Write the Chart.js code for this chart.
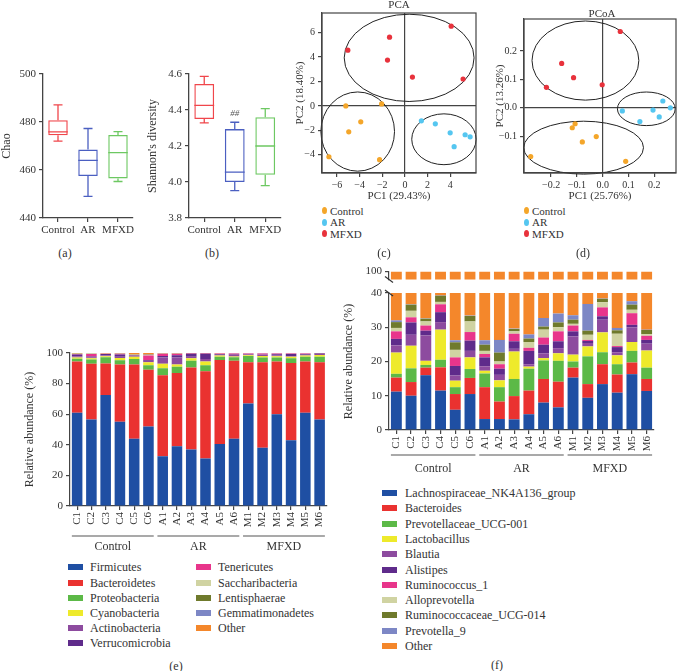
<!DOCTYPE html>
<html>
<head>
<meta charset="utf-8">
<script src="https://cdn.jsdelivr.net/npm/chart.js@4.4.1/dist/chart.umd.min.js"></script>
<style>
  body { margin: 0; background: #fff; }
  #fig { position: relative; width: 680px; height: 671px; overflow: hidden; font-family: 'Liberation Serif', 'DejaVu Serif', serif; color: #333; }
  #fig canvas { position: absolute; }
  .t { position: absolute; white-space: nowrap; line-height: 1; }
  .sw { position: absolute; width: 15px; height: 6px; }
  .dot { position: absolute; width: 5px; height: 7px; border-radius: 50%; }
</style>
</head>
<body>
<div id="fig">
  <canvas id="chao" width="140" height="185" style="left:0;top:60px"></canvas>
  <canvas id="shannon" width="140" height="185" style="left:146px;top:60px"></canvas>
  <canvas id="pca" width="190" height="203" style="left:290px;top:0"></canvas>
  <canvas id="pcoa" width="190" height="203" style="left:490px;top:0"></canvas>
  <canvas id="phylum" width="335" height="220" style="left:0;top:340px"></canvas>
  <canvas id="genus" width="345" height="200" style="left:335px;top:280px"></canvas>
  <canvas id="genusTop" width="345" height="27" style="left:335px;top:262px"></canvas>
</div>
<script>
// groups and samples
const groups = ['Control', 'AR', 'MFXD'];
const boxColors = ['#f0464b', '#4b5fc1', '#6dc862'];
const pointColors = ['#f4a62a', '#55c6f0', '#e8323c'];
const samples = ['C1','C2','C3','C4','C5','C6','A1','A2','A3','A4','A5','A6','M1','M2','M3','M4','M5','M6'];

// (a) Chao index: min, q1, median, q3, max
const chaoMin = [472, 449, 455.2];
const chaoQ1 = [474.5, 457.5, 456.5];
const chaoMed = [475.9, 464, 467.2];
const chaoQ3 = [480.7, 468.5, 474.6];
const chaoMax = [487.1, 477.3, 476];

// (b) Shannon diversity
const shanMin = [4.328, 3.952, 3.98];
const shanQ1 = [4.35, 4.0, 4.04];
const shanMed = [4.426, 4.055, 4.2];
const shanQ3 = [4.545, 4.294, 4.36];
const shanMax = [4.587, 4.332, 4.408];

// (c) PCA scores [PC1, PC2]
const pcaControl = [[-5.22, 0], [-2.06, 0.16], [-3.9, -1.3], [-4.96, -2.12], [-6.71, -4.16], [-2.24, -4.4]];
const pcaAR = [[1.45, -1.22], [2.68, -1.47], [3.99, -2.2], [4.34, -3.34], [5.31, -2.36], [5.75, -2.53]];
const pcaMFXD = [[-1.36, 5.62], [-5.04, 4.56], [-1.54, 3.75], [0.66, 2.36], [4.08, 6.52], [5.13, 2.2]];
// ellipses [cx, cy, rx, ry]
const pcaEllipses = [[-4.17, -2.1, 3.25, 3.24], [3.44, -2.73, 2.84, 2.08], [0.37, 3.93, 5.73, 3.57]];

// (d) PCoA scores
const pcoaControl = [[-0.118, -0.07], [-0.107, -0.056], [-0.079, -0.12], [-0.025, -0.101], [-0.279, -0.171], [0.089, -0.188]];
const pcoaAR = [[0.076, -0.011], [0.144, -0.048], [0.195, -0.008], [0.219, -0.032], [0.233, 0.024], [0.262, 0]];
const pcoaMFXD = [[0.068, 0.268], [-0.159, 0.156], [-0.113, 0.106], [-0.218, 0.072], [-0.002, 0.081]];
const pcoaEllipses = [[-0.074, -0.14, 0.232, 0.093], [0.169, -0.0035, 0.112, 0.059], [-0.067, 0.166, 0.207, 0.139]];

// (e) phylum relative abundance (%)
const phylumNames = ['Firmicutes','Bacteroidetes','Proteobacteria','Cyanobacteria','Actinobacteria','Verrucomicrobia','Tenericutes','Saccharibacteria','Lentisphaerae','Gemmatimonadetes','Other'];
const firmicutes      = [61, 56.5, 72.5, 55, 44, 52, 32.5, 39, 37, 31, 40.5, 44, 67, 38, 60, 43, 61, 56.5];
const bacteroidetes   = [33.5, 36.5, 20.7, 37.5, 48.5, 37, 53, 48, 53.5, 57, 55, 51, 27, 56, 34.5, 50.5, 33.5, 37.5];
const proteobacteria  = [1.8, 2.8, 4, 2.8, 3.5, 3, 4.5, 4, 4.5, 4, 2, 2.3, 4, 3, 2.5, 3, 3, 3.5];
const cyanobacteria   = [0.7, 0.8, 0.7, 1.5, 1.5, 2, 3, 1.5, 1.5, 2.5, 0.8, 0.4, 0.5, 1, 0.8, 1, 0.8, 1.2];
const actinobacteria  = [0.8, 0.6, 0.5, 0.8, 0.6, 0.8, 4, 4.5, 1, 1.5, 0.5, 1, 0.4, 0.8, 0.8, 0.4, 0.6, 0.6];
const verrucomicrobia = [1.2, 0.5, 1, 1.5, 0.3, 0.5, 1, 1.5, 2, 3.5, 0.6, 0.3, 0.3, 0.3, 0.6, 1.5, 0.4, 0.3];
const tenericutes     = [0.3, 1.6, 0.1, 0.4, 0.2, 3, 1.5, 1, 0.3, 0.3, 0.2, 0.7, 0.5, 0.6, 0.5, 0.3, 0.4, 0.2];
const saccharibacteria= [0.2, 0.3, 0.1, 0.2, 0.3, 0.4, 0.2, 0.2, 0.1, 0.1, 0.2, 0.1, 0.1, 0.1, 0.1, 0.1, 0.1, 0.1];
const lentisphaerae   = [0.1, 0.1, 0.1, 0.1, 0.1, 0.2, 0.1, 0.1, 0.05, 0.05, 0.1, 0.1, 0.1, 0.1, 0.1, 0.1, 0.1, 0.05];
const gemmatimonadetes= [0.1, 0.1, 0, 0, 0.1, 0.1, 0.1, 0.1, 0.05, 0.05, 0, 0.05, 0.05, 0.05, 0.05, 0.05, 0.05, 0.03];
const phylumOther     = [0.3, 0.2, 0.3, 0.2, 0.9, 1, 0.1, 0.1, 0, 0, 0.1, 0.05, 0.05, 0.05, 0.05, 0.05, 0.05, 0.02];
const phylumSeries = [firmicutes, bacteroidetes, proteobacteria, cyanobacteria, actinobacteria, verrucomicrobia, tenericutes, saccharibacteria, lentisphaerae, gemmatimonadetes, phylumOther];

// (f) genus relative abundance (%)
const genusNames = ['Lachnospiraceae_NK4A136_group','Bacteroides','Prevotellaceae_UCG-001','Lactobacillus','Blautia','Alistipes','Ruminococcus_1','Alloprevotella','Ruminococcaceae_UCG-014','Prevotella_9','Other'];
const lachno      = [11.2, 10, 16, 11.5, 5.9, 10.5, 3.2, 3.2, 3.1, 4.6, 8, 6.6, 15.3, 9.4, 13.4, 10.9, 16.3, 11.4];
const bacteroides = [4.1, 4, 2.2, 6.8, 4.6, 4.7, 9.3, 5.1, 6.8, 6.9, 6.9, 7.5, 2.9, 4, 5.8, 5.3, 3.4, 3.5];
const prevUCG001  = [1.1, 4, 0.8, 2.2, 2, 2.6, 4, 4.2, 5, 6.4, 5.4, 6.1, 1.8, 8.1, 3.5, 3, 3.4, 3.3];
const lactobac    = [6.2, 6.6, 1.2, 8.8, 1.9, 3.4, 0.8, 2, 8, 0.6, 0.7, 2.2, 2, 2.9, 5.8, 2.6, 2.6, 5];
const blautia     = [2.1, 3.2, 7.4, 2.2, 1.5, 1.9, 1.3, 1.6, 0.8, 0.7, 1.4, 1.5, 5.3, 1, 3.7, 0.9, 4.3, 2];
const alistipes   = [1.9, 3.6, 1.4, 2.9, 2.8, 3, 2.6, 1.8, 2.2, 3.9, 2.5, 2, 1.5, 0.6, 1, 1.5, 0.7, 1.1];
const rumino1     = [2.2, 1.5, 1.5, 2.3, 2.5, 2.5, 1, 1.3, 2.2, 0.9, 2.1, 2.9, 1.7, 0.3, 2.6, 0.3, 3.4, 1.2];
const allopre     = [1, 1.9, 1.2, 0.7, 2.2, 3.1, 0.9, 0.8, 0.7, 1.7, 2.3, 1.2, 0.5, 1.5, 1.5, 3.6, 1, 0.5];
const rumUCG014   = [1.7, 1.8, 0.8, 1.8, 2.2, 1.6, 1.8, 2.6, 0.7, 1, 0.9, 1.4, 1.2, 1.2, 1, 1, 1.5, 1.2];
const prevotella9 = [0.5, 0.1, 0.1, 0.1, 0.6, 0.1, 1.3, 3.7, 0.1, 1.2, 2.5, 2.6, 1.3, 7.8, 0.1, 0.7, 1, 0.1];
const genusOther  = [68, 63.3, 67.4, 60.7, 73.8, 66.6, 73.8, 73.7, 70.4, 72.1, 67.3, 66, 66.5, 63.2, 61.6, 70.2, 62.4, 70.7];
const genusSeries = [lachno, bacteroides, prevUCG001, lactobac, blautia, alistipes, rumino1, allopre, rumUCG014, prevotella9, genusOther];

const stackColors = ['#1f4fa3','#ea3230','#5cb947','#eeea2b','#8d4b9f','#5f2b8b','#e8358b','#d0d3a2','#6f7a2c','#7d87c5','#f4872b'];

const AX = '#444';
Chart.defaults.font.family = "'Liberation Serif', 'DejaVu Serif', serif";
Chart.defaults.color = '#333';
const base = {
  responsive: false, animation: false, devicePixelRatio: 1,
  plugins: { legend: { display: false }, tooltip: { enabled: false } }
};
const axisGrid = { drawOnChartArea: false, tickLength: 4, color: AX, lineWidth: 1.2 };
const minus = v => (v < -1e-9 ? '\u2212' : '');

function boxChart(id, lo, q1, med, q3, hi, yMin, yMax, yStep, digits, yTitle, padRight, note) {
  const whiskers = {
    id: 'whiskers',
    afterDatasetsDraw(chart) {
      const ctx = chart.ctx, y = chart.scales.y;
      chart.getDatasetMeta(0).data.forEach((bar, i) => {
        const x = bar.x, w = bar.width / 2;
        ctx.save();
        ctx.strokeStyle = boxColors[i];
        ctx.lineWidth = 1.3;
        ctx.beginPath();
        ctx.moveTo(x - w, y.getPixelForValue(med[i])); ctx.lineTo(x + w, y.getPixelForValue(med[i]));
        ctx.moveTo(x, y.getPixelForValue(q3[i])); ctx.lineTo(x, y.getPixelForValue(hi[i]));
        ctx.moveTo(x - 4.5, y.getPixelForValue(hi[i])); ctx.lineTo(x + 4.5, y.getPixelForValue(hi[i]));
        ctx.moveTo(x, y.getPixelForValue(q1[i])); ctx.lineTo(x, y.getPixelForValue(lo[i]));
        ctx.moveTo(x - 4.5, y.getPixelForValue(lo[i])); ctx.lineTo(x + 4.5, y.getPixelForValue(lo[i]));
        ctx.stroke();
        ctx.restore();
      });
      if (note) {
        const bar = chart.getDatasetMeta(0).data[note.index];
        ctx.save();
        ctx.fillStyle = '#555';
        ctx.font = 'italic 9px ' + Chart.defaults.font.family;
        ctx.textAlign = 'center';
        ctx.textBaseline = 'middle';
        ctx.fillText(note.text, bar.x, y.getPixelForValue(note.value));
        ctx.restore();
      }
    }
  };
  new Chart(document.getElementById(id), {
    type: 'bar',
    data: { labels: groups, datasets: [{
      data: q1.map((v, i) => [v, q3[i]]),
      backgroundColor: 'rgba(255,255,255,0)', borderColor: boxColors, borderWidth: 1.3,
      borderSkipped: false, barPercentage: 0.65, categoryPercentage: 1
    }] },
    options: {
      ...base,
      layout: { padding: { top: 14, right: padRight, left: 0, bottom: 0 } },
      scales: {
        x: { grid: { ...axisGrid, offset: false }, border: { color: AX, width: 1.3 },
             ticks: { font: { size: 11 }, padding: 2, autoSkip: false, minRotation: 0, maxRotation: 0 },
             afterFit: s => { s.height = 27; } },
        y: { min: yMin, max: yMax, grid: axisGrid, border: { color: AX, width: 1.3 },
             ticks: { stepSize: yStep, font: { size: 11 }, padding: 3, callback: v => v.toFixed(digits) },
             title: { display: true, text: yTitle, font: { size: 12 }, padding: 0 },
             afterFit: s => { s.width = 43; } }
      }
    },
    plugins: [whiskers]
  });
}

function scatterChart(id, sets, ellipses, xr, yr, xStep, yStep, digits, xTitle, yTitle, padTop, padRight, yWidth) {
  const frame = {
    id: 'frame',
    beforeDatasetsDraw(chart) {
      const ctx = chart.ctx, a = chart.chartArea, xs = chart.scales.x, ys = chart.scales.y;
      ctx.save();
      ctx.strokeStyle = '#222';
      ctx.lineWidth = 1;
      ellipses.forEach(e => {
        const cx = xs.getPixelForValue(e[0]), cy = ys.getPixelForValue(e[1]);
        const rx = Math.abs(xs.getPixelForValue(e[0] + e[2]) - cx);
        const ry = Math.abs(ys.getPixelForValue(e[1] + e[3]) - cy);
        ctx.beginPath();
        ctx.ellipse(cx, cy, rx, ry, 0, 0, Math.PI * 2);
        ctx.stroke();
      });
      ctx.strokeStyle = AX;
      ctx.lineWidth = 1.2;
      ctx.strokeRect(a.left, a.top, a.right - a.left, a.bottom - a.top);
      ctx.restore();
    }
  };
  const inRange = (lo, hi) => s => { s.ticks = s.ticks.filter(t => t.value >= lo - 1e-9 && t.value <= hi + 1e-9); };
  const zeroGrid = { tickLength: 4, tickColor: AX, lineWidth: 1.2,
    color: c => (c.tick && Math.abs(c.tick.value) < 1e-9 ? AX : 'rgba(0,0,0,0)') };
  new Chart(document.getElementById(id), {
    type: 'scatter',
    data: { datasets: sets.map((pts, g) => ({
      data: pts.map(p => ({ x: p[0], y: p[1] })),
      backgroundColor: pointColors[g], borderWidth: 0, pointRadius: 2.6
    })) },
    options: {
      ...base,
      layout: { padding: { top: padTop, right: padRight, left: 0, bottom: 0 } },
      scales: {
        x: { min: xr[0], max: xr[1], grid: zeroGrid, border: { color: AX, width: 1.2 },
             ticks: { stepSize: xStep, includeBounds: false, font: { size: 10 }, padding: 2,
                      callback: v => minus(v) + Math.abs(v).toFixed(digits) },
             afterBuildTicks: inRange(xr[2], xr[3]),
             title: { display: true, text: xTitle, font: { size: 11 }, padding: { top: 1, bottom: 0 } },
             afterFit: s => { s.height = 30; } },
        y: { min: yr[0], max: yr[1], grid: zeroGrid, border: { color: AX, width: 1.2 },
             ticks: { stepSize: yStep, includeBounds: false, font: { size: 10 }, padding: 3,
                      callback: v => minus(v) + Math.abs(v).toFixed(digits) },
             afterBuildTicks: inRange(yr[2], yr[3]),
             title: { display: true, text: yTitle, font: { size: 11 }, padding: 4 },
             afterFit: s => { s.width = yWidth; } }
      }
    },
    plugins: [frame]
  });
}

function groupMarks(lineY, labelY) {
  return {
    id: 'groupMarks',
    afterDraw(chart) {
      const ctx = chart.ctx, xs = chart.scales.x;
      const bw = chart.getDatasetMeta(0).data[0].width / 2;
      ctx.save();
      ctx.strokeStyle = '#555';
      ctx.lineWidth = 1.2;
      ctx.fillStyle = '#333';
      ctx.font = '12px ' + Chart.defaults.font.family;
      ctx.textAlign = 'center';
      ctx.textBaseline = 'middle';
      groups.forEach((g, k) => {
        const x1 = xs.getPixelForValue(k * 6) - bw, x2 = xs.getPixelForValue(k * 6 + 5) + bw;
        ctx.beginPath(); ctx.moveTo(x1, lineY); ctx.lineTo(x2, lineY); ctx.stroke();
        ctx.fillText(g, (x1 + x2) / 2, labelY);
      });
      ctx.restore();
    }
  };
}

function breakMark(where) {
  return {
    id: 'breakMark',
    afterDraw(chart) {
      const ctx = chart.ctx, a = chart.chartArea;
      const y = where === 'top' ? a.top : a.bottom;
      ctx.save();
      ctx.strokeStyle = '#333';
      ctx.lineWidth = 1.2;
      ctx.beginPath();
      ctx.moveTo(a.left - 4, y - 3); ctx.lineTo(a.left + 4, y + 3);
      ctx.stroke();
      ctx.restore();
    }
  };
}

function stackChart(id, series, yMin, yMax, yStep, pad, xHeight, opts) {
  const xTicks = opts.showX
    ? { display: true, autoSkip: false, minRotation: 90, maxRotation: 90, font: { size: 11 }, padding: 2 }
    : { display: false };
  return new Chart(document.getElementById(id), {
    type: 'bar',
    data: { labels: samples, datasets: series.map((d, k) => ({
      data: d, backgroundColor: stackColors[k], borderWidth: 0,
      barPercentage: opts.barPct, categoryPercentage: 1
    })) },
    options: {
      ...base,
      layout: { padding: pad },
      scales: {
        x: { stacked: true, display: opts.showX, grid: { ...axisGrid, offset: false },
             border: { color: AX, width: 1.2 }, ticks: xTicks,
             afterFit: s => { s.height = xHeight; } },
        y: { stacked: true, min: yMin, max: yMax, grid: axisGrid, border: { color: AX, width: 1.2 },
             ticks: { stepSize: yStep, font: { size: 11 }, padding: 3 },
             afterBuildTicks: opts.onlyTick ? (s => { s.ticks = [{ value: opts.onlyTick }]; }) : undefined,
             title: { display: !!opts.yTitle, text: opts.yTitle || '', font: { size: 12 }, padding: 4 },
             afterFit: s => { s.width = 51; } }
      }
    },
    plugins: opts.plugins || []
  });
}

boxChart('chao', chaoMin, chaoQ1, chaoMed, chaoQ3, chaoMax, 440, 500, 20, 0, 'Chao', 7, null);
boxChart('shannon', shanMin, shanQ1, shanMed, shanQ3, shanMax, 3.8, 4.6, 0.2, 1, "Shannon's diversity", 5.5,
  { index: 1, value: 4.38, text: '##' });

scatterChart('pca', [pcaControl, pcaAR, pcaMFXD], pcaEllipses,
  [-7.32, 6.27, -6, 4], [-5.49, 7.6, -4, 6], 2, 2, 0, 'PC1 (29.43%)', 'PC2 (18.40%)', 13, 3, 32);
scatterChart('pcoa', [pcoaControl, pcoaAR, pcoaMFXD], pcoaEllipses,
  [-0.305, 0.284, -0.2, 0.2], [-0.229, 0.312, -0.1, 0.2], 0.1, 0.1, 1, 'PC1 (25.76%)', 'PC2 (13.26%)', 19, 1, 34);

stackChart('phylum', phylumSeries, 0, 100, 20, { top: 13, left: 19, right: 7, bottom: 0 }, 54,
  { showX: true, barPct: 0.74, yTitle: 'Relative abundance (%)', plugins: [groupMarks(196, 207)] });
stackChart('genusTop', genusSeries, 96, 100, 4, { top: 9, left: 3, right: 26, bottom: 7 }, 0,
  { showX: false, barPct: 0.74, onlyTick: 100, plugins: [breakMark('bottom')] });
stackChart('genus', genusSeries, 0, 40, 10, { top: 13, left: 3, right: 26, bottom: 0 }, 50,
  { showX: true, barPct: 0.74, yTitle: 'Relative abundance (%)', plugins: [groupMarks(175, 189), breakMark('top')] });

// HTML text: titles, legends, panel letters
const fig = document.getElementById('fig');
function label(text, x, y, size, center) {
  const d = document.createElement('div');
  d.className = 't';
  d.textContent = text;
  d.style.left = x + 'px';
  d.style.top = y + 'px';
  d.style.fontSize = size + 'px';
  d.style.transform = center ? 'translate(-50%,-50%)' : 'translate(0,-50%)';
  fig.appendChild(d);
}
function box(cls, x, y, color) {
  const d = document.createElement('div');
  d.className = cls;
  d.style.left = x + 'px';
  d.style.top = y + 'px';
  d.style.background = color;
  fig.appendChild(d);
}
label('PCA', 399, 4, 11, true);
label('PCoA', 602, 13, 11, true);
[322, 524].forEach(x0 => {
  groups.forEach((g, k) => {
    const y = 210.5 + k * 11.5;
    box('dot', x0, y - 3.5, pointColors[k]);
    label(g, x0 + 8, y, 11, false);
  });
});
phylumNames.forEach((n, k) => {
  const col = k < 6 ? 0 : 1, row = k < 6 ? k : k - 6;
  const y = 567.3 + row * 15.2;
  box('sw', col ? 195.5 : 67.5, y - 3, stackColors[k]);
  label(n, col ? 218 : 90, y, 12, false);
});
genusNames.forEach((n, k) => {
  const y = 493 + k * 15.3;
  box('sw', 382, y - 3, stackColors[k]);
  label(n, 405, y, 12, false);
});
label('(a)', 65, 253, 12, true);
label('(b)', 212, 253, 12, true);
label('(c)', 384, 253, 12, true);
label('(d)', 583, 253, 12, true);
label('(e)', 176, 666, 12, true);
label('(f)', 497, 665, 12, true);
</script>
</body>
</html>
